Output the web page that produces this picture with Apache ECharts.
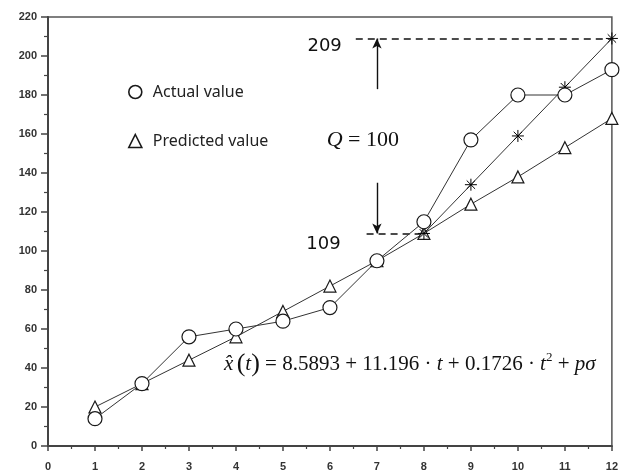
<!DOCTYPE html>
<html>
<head>
<meta charset="utf-8">
<script src="https://cdn.jsdelivr.net/npm/echarts@6/dist/echarts.min.js"></script>
<style>
  html, body { margin: 0; padding: 0; background: #fff; }
  #chart { width: 621px; height: 472px; }
</style>
</head>
<body>
<div id="chart"></div>
<script>
// Time index t and observed / fitted series
const timeSteps = [1, 2, 3, 4, 5, 6, 7, 8, 9, 10, 11, 12];
const actualValues = [14, 32, 56, 60, 64, 71, 95, 115, 157, 180, 180, 193];
const predictedValues = [20, 32, 44, 56, 69, 82, 95, 109, 124, 138, 153, 168];
// Upper forecast bound from t = 8 onward
const upperSteps = [8, 9, 10, 11, 12];
const upperValues = [109, 134, 159, 184, 209];

// Axis ticks
const xTicks = [0, 1, 2, 3, 4, 5, 6, 7, 8, 9, 10, 11, 12];
const yTicks = [0, 20, 40, 60, 80, 100, 120, 140, 160, 180, 200, 220];

// Annotation values
const upperMark = 209;
const lowerMark = 109;
const qValue = 100;

const ink = '#1a1a1a';
const lineInk = '#333';
// eight-spoke asterisk marker
const asterisk = 'path://M0,5L10,5M5,0L5,10M1.5,1.5L8.5,8.5M1.5,8.5L8.5,1.5';

const pair = (xs, ys) => xs.map((x, i) => [x, ys[i]]);

const chart = echarts.init(document.getElementById('chart'), null, { renderer: 'canvas' });

const axisFont = { fontFamily: 'Liberation Sans, Arial, sans-serif', fontSize: 11, color: '#333', fontWeight: 'bold' };
const markFont = { fontFamily: 'DejaVu Sans, sans-serif', fontSize: 18, color: '#111' };

chart.setOption({
  animation: false,
  backgroundColor: '#fff',
  grid: {
    left: 48, right: 5, top: 17, bottom: 25,
    show: true, borderColor: '#555', borderWidth: 1.5, backgroundColor: 'transparent'
  },
  legend: {
    orient: 'vertical',
    left: 123, top: 79,
    itemWidth: 13, itemHeight: 13, itemGap: 33,
    data: [
      { name: 'Actual value', icon: 'circle' },
      { name: 'Predicted value', icon: 'triangle' }
    ],
    itemStyle: { color: '#fff', borderColor: ink, borderWidth: 1.6 },
    textStyle: { fontFamily: 'Noto Sans, sans-serif', fontSize: 16, color: '#222', padding: [0, 0, 0, 6] }
  },
  xAxis: {
    type: 'value', min: xTicks[0], max: xTicks[xTicks.length - 1], interval: 1,
    axisLine: { show: true, lineStyle: { color: '#444', width: 2 } },
    axisTick: { show: true, inside: false, length: 5, lineStyle: { color: '#444', width: 1.5 } },
    minorTick: { show: true, splitNumber: 2, length: 3, lineStyle: { color: '#444', width: 1.2 } },
    splitLine: { show: false },
    axisLabel: Object.assign({ margin: 15 }, axisFont)
  },
  yAxis: {
    type: 'value', min: yTicks[0], max: yTicks[yTicks.length - 1], interval: 20,
    axisLine: { show: true, lineStyle: { color: '#444', width: 2 } },
    axisTick: { show: true, inside: false, length: 7, lineStyle: { color: '#444', width: 1.5 } },
    minorTick: { show: true, splitNumber: 2, length: 4, lineStyle: { color: '#444', width: 1.2 } },
    splitLine: { show: false },
    axisLabel: Object.assign({ margin: 11 }, axisFont)
  },
  series: [
    {
      name: 'Predicted value',
      type: 'line',
      data: pair(timeSteps, predictedValues),
      symbol: 'triangle', symbolSize: 12,
      lineStyle: { color: lineInk, width: 1 },
      itemStyle: { color: '#fff', borderColor: ink, borderWidth: 1.2 },
      z: 3
    },
    {
      name: 'Upper bound',
      type: 'line',
      data: pair(upperSteps, upperValues),
      symbol: asterisk, symbolSize: 12,
      lineStyle: { color: lineInk, width: 1 },
      itemStyle: { color: 'rgba(0,0,0,0)', borderColor: '#000', borderWidth: 1 },
      z: 4,
      markLine: {
        silent: true,
        symbol: 'none',
        lineStyle: { color: '#111', type: [7, 5], width: 1.6 },
        data: [
          [
            { coord: [6.55, upperMark], name: String(upperMark),
              label: Object.assign({ show: true, position: 'start', distance: 14, offset: [0, 8], formatter: '{b}' }, markFont) },
            { coord: [12, upperMark] }
          ],
          [
            { coord: [6.78, lowerMark], name: String(lowerMark),
              label: Object.assign({ show: true, position: 'start', distance: 26, offset: [0, 11], formatter: '{b}' }, markFont) },
            { coord: [7.98, lowerMark] }
          ]
        ]
      }
    },
    {
      name: 'Actual value',
      type: 'line',
      data: pair(timeSteps, actualValues),
      symbol: 'circle', symbolSize: 14,
      lineStyle: { color: lineInk, width: 1 },
      itemStyle: { color: '#fff', borderColor: ink, borderWidth: 1.2 },
      z: 5,
      markLine: {
        silent: true,
        symbol: ['none', 'arrow'],
        symbolSize: [7, 10],
        lineStyle: { color: '#111', type: 'solid', width: 1.4 },
        label: { show: false },
        data: [
          [{ coord: [7, 183] }, { coord: [7, upperMark] }],
          [{ coord: [7, 135] }, { coord: [7, lowerMark] }]
        ]
      },
      markPoint: {
        silent: true,
        symbol: 'circle', symbolSize: 0,
        data: [
          {
            coord: [6.7, 157],
            label: {
              show: true, position: 'inside',
              formatter: '{q|Q}{r| = ' + qValue + '}',
              rich: {
                q: { fontFamily: 'Liberation Serif, serif', fontStyle: 'italic', fontSize: 22, color: '#111' },
                r: { fontFamily: 'Liberation Serif, serif', fontSize: 22, color: '#111' }
              }
            }
          },
          {
            coord: [7.7, 42],
            label: {
              show: true, position: 'inside',
              formatter: '{i|x̂} {p|(}{i|t}{p|)}{r| = 8.5893 + 11.196 · }{i|t}{r| + 0.1726 · }{i|t}{s|2}{r| + }{i|pσ}',
              rich: {
                i: { fontFamily: 'Liberation Serif, serif', fontStyle: 'italic', fontSize: 21, color: '#111' },
                r: { fontFamily: 'Liberation Serif, serif', fontSize: 21, color: '#111' },
                p: { fontFamily: 'Liberation Serif, serif', fontSize: 26, color: '#111' },
                s: { fontFamily: 'Liberation Serif, serif', fontSize: 13, color: '#111', verticalAlign: 'top', padding: [0, 0, 10, 0] }
              }
            }
          }
        ]
      }
    }
  ]
});
</script>
</body>
</html>
